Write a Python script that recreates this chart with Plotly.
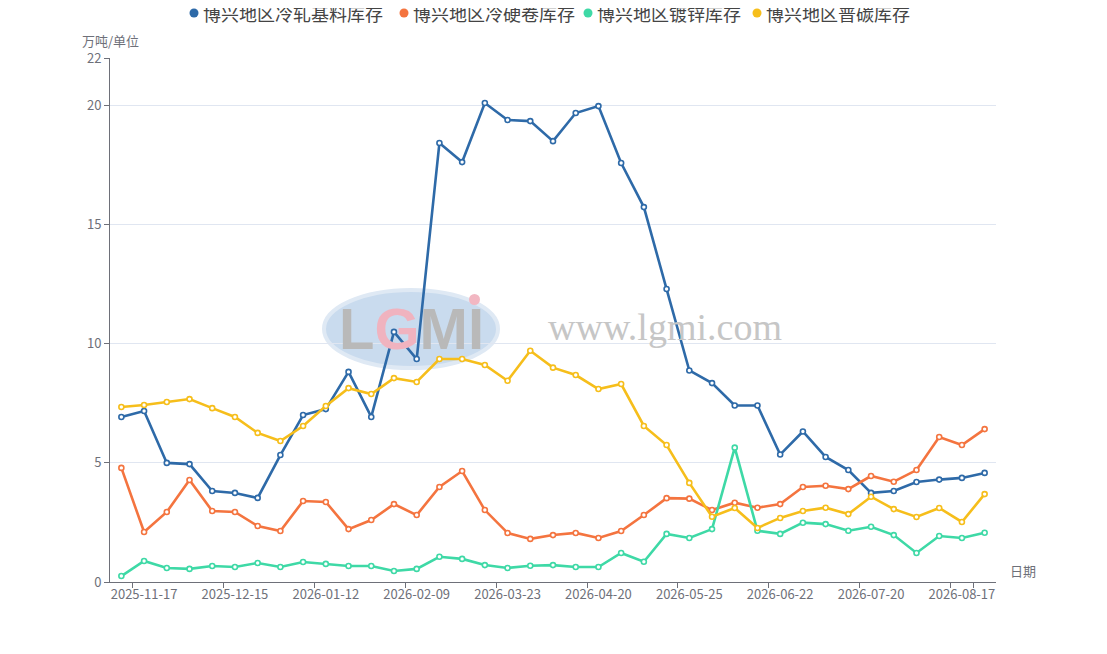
import plotly.graph_objects as go

# weekly dates (category axis)
dates = [
    '2025-11-10', '2025-11-17', '2025-11-24', '2025-12-01', '2025-12-08',
    '2025-12-15', '2025-12-22', '2025-12-29', '2026-01-05', '2026-01-12',
    '2026-01-19', '2026-01-26', '2026-02-02', '2026-02-09', '2026-03-02',
    '2026-03-09', '2026-03-16', '2026-03-23', '2026-03-30', '2026-04-06',
    '2026-04-13', '2026-04-20', '2026-04-27', '2026-05-11', '2026-05-18',
    '2026-05-25', '2026-06-01', '2026-06-08', '2026-06-15', '2026-06-22',
    '2026-06-29', '2026-07-06', '2026-07-13', '2026-07-20', '2026-07-27',
    '2026-08-03', '2026-08-10', '2026-08-17', '2026-08-24',
]

cold_rolled_base = [
    6.93, 7.18, 5.0, 4.95, 3.82, 3.74, 3.53, 5.33, 7.01, 7.26,
    8.82, 6.93, 10.5, 9.36, 18.43, 17.63, 20.11, 19.4, 19.35, 18.51,
    19.69, 19.98, 17.59, 15.74, 12.3, 8.88, 8.35, 7.41, 7.41, 5.35,
    6.32, 5.25, 4.7, 3.74, 3.82, 4.2, 4.3, 4.37, 4.58,
]
cold_hard_coil = [
    4.79, 2.1, 2.94, 4.28, 2.98, 2.94, 2.35, 2.14, 3.4, 3.36,
    2.22, 2.6, 3.27, 2.81, 3.99, 4.66, 3.02, 2.06, 1.81, 1.97,
    2.06, 1.85, 2.14, 2.81, 3.52, 3.5, 3.02, 3.33, 3.12, 3.27,
    3.99, 4.04, 3.9, 4.45, 4.21, 4.7, 6.09, 5.75, 6.42,
]
galvanized = [
    0.25, 0.88, 0.59, 0.55, 0.67, 0.63, 0.8, 0.63, 0.84, 0.76,
    0.67, 0.67, 0.46, 0.55, 1.06, 0.97, 0.71, 0.59, 0.68, 0.71,
    0.63, 0.63, 1.22, 0.85, 2.02, 1.85, 2.22, 5.64, 2.15, 2.02,
    2.49, 2.43, 2.15, 2.32, 1.97, 1.22, 1.93, 1.85, 2.07,
]
plain_carbon = [
    7.35, 7.43, 7.56, 7.68, 7.3, 6.93, 6.26, 5.92, 6.55, 7.39,
    8.14, 7.89, 8.56, 8.4, 9.36, 9.36, 9.11, 8.45, 9.71, 9.0,
    8.69, 8.1, 8.31, 6.55, 5.75, 4.16, 2.74, 3.11, 2.27, 2.69,
    2.98, 3.12, 2.85, 3.58, 3.06, 2.73, 3.11, 2.52, 3.69,
]

series_names = ['博兴地区冷轧基料库存', '博兴地区冷硬卷库存', '博兴地区镀锌库存', '博兴地区普碳库存']
series_values = [cold_rolled_base, cold_hard_coil, galvanized, plain_carbon]
colors = ['#2e6aa8', '#f4743f', '#3ed9a6', '#f6be1b']

tick_labels = dates[1::4]

# page has an 8px body margin; figure sized so the plot lands where the original is
W, H = 1099, 646
L, R, T, B = 102, 111, 50, 72
PW, PH = W - L - R, H - T - B


def px(x):
    # figure pixel -> paper x
    return (x - L) / PW


def py(y):
    return (H - B - y) / PH


fig = go.Figure()
for name, vals, c in zip(series_names, series_values, colors):
    fig.add_trace(go.Scatter(
        x=dates, y=vals, name=name, mode='lines+markers',
        line=dict(color=c, width=2.6),
        marker=dict(symbol='circle', size=5, color='white',
                    line=dict(color=c, width=1.6)),
        showlegend=False,
    ))

# legend drawn as dots + text (compact like the original)
legend_x = [186, 396, 580, 749]
for name, c, lx in zip(series_names, colors, legend_x):
    fig.add_shape(type='circle', xref='paper', yref='paper',
                  x0=px(lx - 4.5), x1=px(lx + 4.5), y0=py(5 - 4.5 + 0), y1=py(5 + 4.5),
                  fillcolor=c, line=dict(width=0))
    fig.add_annotation(xref='paper', yref='paper', x=px(lx + 7), y=py(5),
                       xanchor='left', yanchor='middle', text=name, showarrow=False,
                       font=dict(size=18, color='#444444'))

# watermark
fig.add_shape(type='circle', xref='paper', yref='paper', layer='below',
              x0=px(316), x1=px(490), y0=py(360), y1=py(282),
              fillcolor='#c9dbee', line=dict(color='#dfe9f4', width=4))
fig.add_annotation(xref='paper', yref='paper', x=px(403), y=py(320),
                   text="<b>L<span style='color:#f0b3bf'>G</span>MI</b>",
                   showarrow=False,
                   font=dict(family='Liberation Sans', size=58, color='#b9b9b9'))
fig.add_shape(type='circle', xref='paper', yref='paper', layer='below',
              x0=px(461), x1=px(472), y0=py(297), y1=py(286),
              fillcolor='#f2b7c2', line=dict(width=0))
fig.add_annotation(xref='paper', yref='paper', x=px(657), y=py(319),
                   text='www.lgmi.com', showarrow=False,
                   font=dict(family='Liberation Serif', size=38, color='#c6c6c6'))

# axis titles
fig.add_annotation(xref='paper', yref='paper', x=0.0, y=1.0, xanchor='center',
                   yanchor='bottom', yshift=6, text='万吨/单位', showarrow=False,
                   font=dict(size=13, color='#6e7079'))
fig.add_annotation(xref='paper', yref='paper', x=1.0, y=0.0, xanchor='left',
                   xshift=12, text='日期', showarrow=False,
                   font=dict(size=13, color='#6e7079'))

fig.update_layout(
    width=W, height=H,
    margin=dict(l=L, r=R, t=T, b=B, autoexpand=False),
    paper_bgcolor='white', plot_bgcolor='white',
    font=dict(family='Noto Sans CJK SC', color='#6e7079'),
    showlegend=False,
)
fig.update_xaxes(
    type='category', categoryorder='array', categoryarray=dates,
    range=[-0.5, len(dates) - 0.5], automargin=False,
    tickmode='array', tickvals=tick_labels, ticktext=tick_labels, tickangle=0,
    tickson='boundaries', ticks='outside', ticklen=5, tickcolor='#6e7079',
    showline=True, linecolor='#6e7079', linewidth=1,
    showgrid=False, tickfont=dict(size=13, color='#6e7079'),
)
fig.update_yaxes(
    range=[0, 22], tickmode='array', tickvals=[0, 5, 10, 15, 20, 22],
    automargin=False,
    ticks='outside', ticklen=5, tickcolor='#6e7079',
    showline=True, linecolor='#6e7079', linewidth=1,
    showgrid=True, gridcolor='#e0e6f1', zeroline=False,
    tickfont=dict(size=13, color='#6e7079'),
)

fig.write_html('out.html')
